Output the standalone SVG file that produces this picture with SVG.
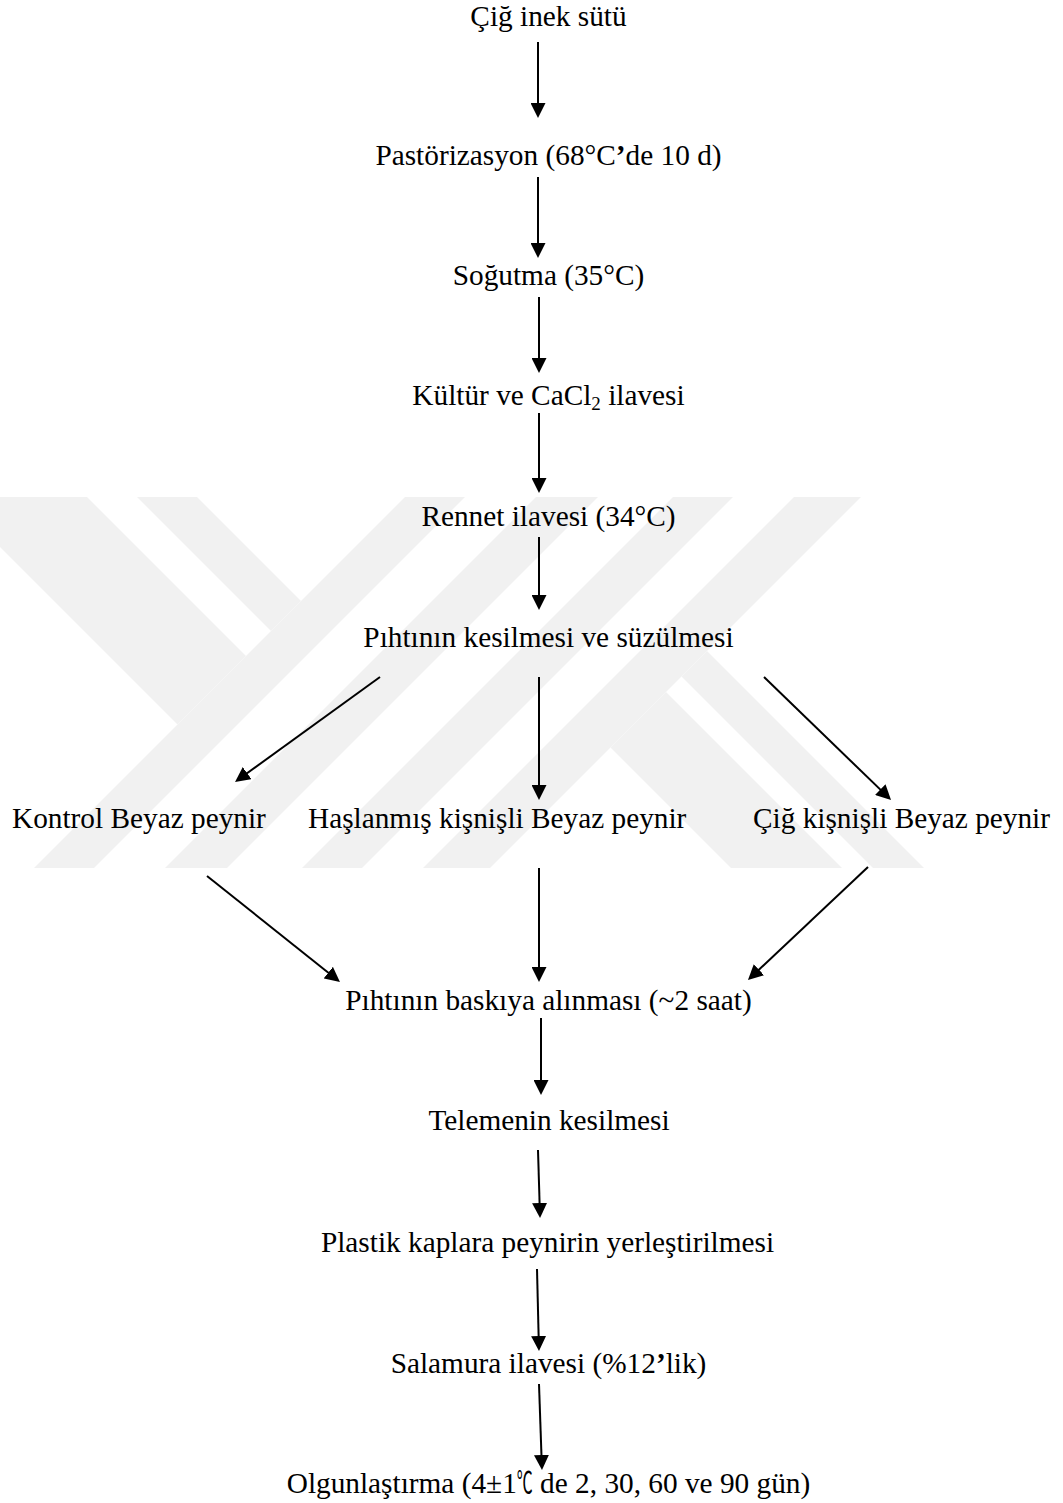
<svg xmlns="http://www.w3.org/2000/svg" width="1063" height="1503" viewBox="0 0 1063 1503">
<style>
.t{font-family:'Liberation Serif','Times New Roman','DejaVu Serif','Noto Sans CJK SC',serif;font-size:29.3px;fill:#000}
.c{text-anchor:middle}
.wm{fill:#f1f1f1}
.ln{stroke:#000;stroke-width:2;fill:none;marker-end:url(#ah)}
.cj{font-family:'Noto Sans CJK SC','DejaVu Sans',sans-serif;font-weight:normal}
</style>
<defs>
<marker id="ah" markerUnits="userSpaceOnUse" markerWidth="15" markerHeight="15" viewBox="0 0 15 15" refX="7" refY="7.5" orient="auto">
<path d="M0,0 L15,7.5 L0,15 z" fill="#000"/>
</marker>
<clipPath id="wclip"><rect x="0" y="497" width="1063" height="371"/></clipPath>
</defs>
<rect width="1063" height="1503" fill="#fff"/>
<g id="watermark" clip-path="url(#wclip)">
<polygon class="wm" points="405,497 465,497 94,868 34,868"/>
<polygon class="wm" points="536,497 598,497 227,868 165,868"/>
<polygon class="wm" points="673,497 733,497 362,868 302,868"/>
<polygon class="wm" points="794,497 861,497 490,868 423,868"/>
<polygon class="wm" points="-50,497 87,497 246,656 177.5,724.5"/>
<polygon class="wm" points="137,497 197,497 301,601 271,631"/>
<polygon class="wm" points="707,651 924,868 873,868 681.5,676.5"/>
<polygon class="wm" points="666,692 842,868 731,868 610.5,747.5"/>
</g>
<g id="connectors">
<line class="ln" x1="538" y1="42" x2="538" y2="110"/>
<line class="ln" x1="538" y1="177" x2="538" y2="250"/>
<line class="ln" x1="539" y1="297" x2="539" y2="365"/>
<line class="ln" x1="539" y1="413" x2="539" y2="485"/>
<line class="ln" x1="539" y1="537" x2="539" y2="602"/>
<line class="ln" x1="380" y1="677" x2="241.5" y2="777.3"/>
<line class="ln" x1="539" y1="677" x2="539" y2="792"/>
<line class="ln" x1="764" y1="677" x2="885.3" y2="794.4"/>
<line class="ln" x1="207" y1="876" x2="333.7" y2="977"/>
<line class="ln" x1="539" y1="868" x2="539" y2="974"/>
<line class="ln" x1="868" y1="867" x2="753.8" y2="974.5"/>
<line class="ln" x1="541" y1="1018" x2="541" y2="1087"/>
<line class="ln" x1="538" y1="1150" x2="539.8" y2="1210"/>
<line class="ln" x1="537" y1="1269" x2="538.8" y2="1343"/>
<line class="ln" x1="539" y1="1384" x2="541.7" y2="1462"/>
</g>
<g id="n1"><text class="t c" x="548.5" y="26">Çiğ inek sütü</text></g>
<g id="n2"><text class="t c" x="548.5" y="165">Pastörizasyon (68°C<tspan font-weight="bold">’</tspan>de 10 d)</text></g>
<g id="n3"><text class="t c" x="548.5" y="285">Soğutma (35°C)</text></g>
<g id="n4"><text class="t c" x="548.5" y="405">Kültür ve CaCl<tspan font-size="19" dy="5">2</tspan><tspan dy="-5"> ilavesi</tspan></text></g>
<g id="n5"><text class="t c" x="548.5" y="526">Rennet ilavesi (34°C)</text></g>
<g id="n6"><text class="t c" x="548.5" y="647">Pıhtının kesilmesi ve süzülmesi</text></g>
<g id="n7"><text class="t" x="12" y="828">Kontrol Beyaz peynir</text></g>
<g id="n8"><text class="t" x="308" y="828">Haşlanmış kişnişli Beyaz peynir</text></g>
<g id="n9"><text class="t" x="753" y="828">Çiğ kişnişli Beyaz peynir</text></g>
<g id="n10"><text class="t c" x="548.5" y="1010">Pıhtının baskıya alınması (~2 saat)</text></g>
<g id="n11"><text class="t c" x="549" y="1130">Telemenin kesilmesi</text></g>
<g id="n12"><text class="t c" x="547.5" y="1252">Plastik kaplara peynirin yerleştirilmesi</text></g>
<g id="n13"><text class="t c" x="548.5" y="1373">Salamura ilavesi (%12<tspan font-weight="bold">’</tspan>lik)</text></g>
<g id="n14"><text class="t c" x="548.5" y="1493">Olgunlaştırma (4±1<tspan class="cj" textLength="16" lengthAdjust="spacingAndGlyphs">℃</tspan> de 2, 30, 60 ve 90 gün)</text></g>
</svg>
